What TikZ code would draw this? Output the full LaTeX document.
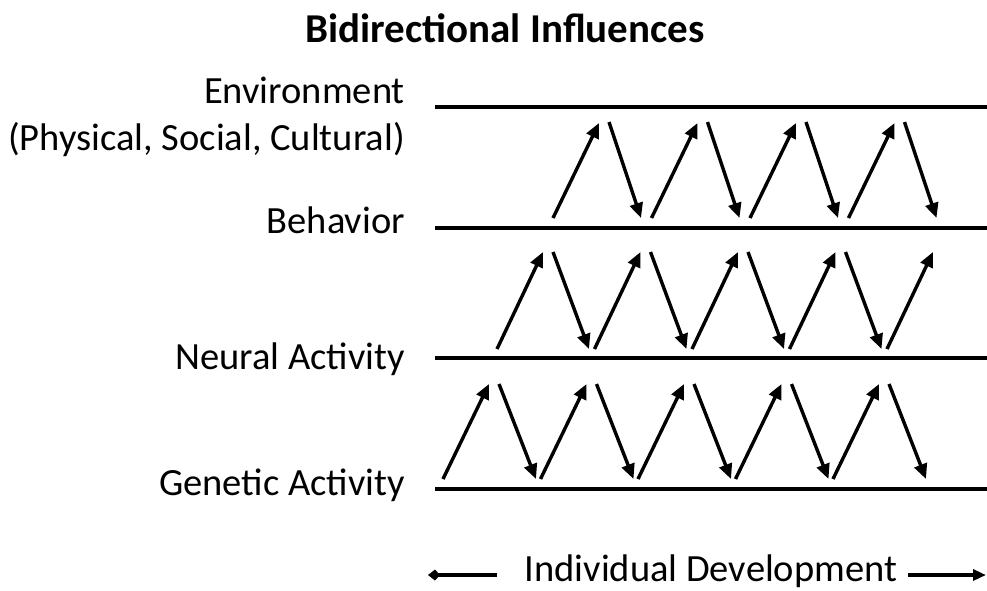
\documentclass[tikz,border=0pt]{standalone}
\usepackage{fontspec}
\setmainfont{Carlito}
\usetikzlibrary{arrows.meta}
\tikzset{
  level/.style={line width=3.6pt, black},
  influence/.style={line width=3.4pt, -{Triangle[length=15pt,width=13pt]}},
  devarrow/.style={line width=3.2pt},
  lbl/.style={anchor=base east, inner sep=0pt, font=\fontsize{38.5}{42}\selectfont},
}
\begin{document}
\begin{tikzpicture}[x=1pt,y=-1pt]
\useasboundingbox (0,0) rectangle (987,590);
% title
\node[anchor=base, inner sep=0pt, font=\bfseries\fontsize{41}{45}\selectfont] (title) at (505,42) {Bidirectional Influences};
% labels
\node[lbl] (env) at (405,103) {Environment};
\node[lbl] (envsub) at (405,150) {(Physical, Social, Cultural)};
\node[lbl] (beh) at (405,233) {Behavior};
\node[lbl] (neu) at (405,369) {Neural Activity};
\node[lbl] (gen) at (405,495) {Genetic Activity};
% level lines
\coordinate (envL) at (435,107); \coordinate (envR) at (987,107);
\coordinate (behL) at (435,228); \coordinate (behR) at (987,228);
\coordinate (neuL) at (435,358); \coordinate (neuR) at (987,358);
\coordinate (genL) at (435,489); \coordinate (genR) at (987,489);
\draw[level] (envL) -- (envR);
\draw[level] (behL) -- (behR);
\draw[level] (neuL) -- (neuR);
\draw[level] (genL) -- (genR);
% band 1: behavior <-> environment
\foreach \k in {0,...,3}{
  \pgfmathsetmacro{\x}{553+98.5*\k}
  \coordinate (a1s\k) at (\x,218);
  \coordinate (a1t\k) at (\x+46,123);
  \coordinate (b1s\k) at (\x+56,122);
  \coordinate (b1t\k) at (\x+88,218);
  \draw[influence] (a1s\k) -- (a1t\k);
  \draw[influence] (b1s\k) -- (b1t\k);
}
% band 2: neural <-> behavior
\foreach \k in {0,...,4}{
  \pgfmathsetmacro{\x}{497+97.5*\k}
  \coordinate (a2s\k) at (\x,349);
  \coordinate (a2t\k) at (\x+46,252);
  \draw[influence] (a2s\k) -- (a2t\k);
}
\foreach \k in {0,...,3}{
  \pgfmathsetmacro{\x}{497+97.5*\k}
  \coordinate (b2s\k) at (\x+56,252);
  \coordinate (b2t\k) at (\x+92,349);
  \draw[influence] (b2s\k) -- (b2t\k);
}
% band 3: genetic <-> neural
\foreach \k in {0,...,4}{
  \pgfmathsetmacro{\x}{443+97.5*\k}
  \coordinate (a3s\k) at (\x,479);
  \coordinate (a3t\k) at (\x+46,384);
  \coordinate (b3s\k) at (\x+56,384);
  \coordinate (b3t\k) at (\x+93,479);
  \draw[influence] (a3s\k) -- (a3t\k);
  \draw[influence] (b3s\k) -- (b3t\k);
}
% individual development
\node[anchor=base, inner sep=0pt, font=\fontsize{38.5}{42}\selectfont] (dev) at (711,581) {Individual Development};
\coordinate (dlL) at (428,575); \coordinate (dlR) at (497,575);
\coordinate (drL) at (908,575); \coordinate (drR) at (986,575);
\draw[devarrow, -{Kite[length=12pt,width=11pt,inset=5pt]}] (dlR) -- (dlL);
\draw[devarrow, -{Triangle[length=13pt,width=11pt]}] (drL) -- (drR);
\end{tikzpicture}
\end{document}
